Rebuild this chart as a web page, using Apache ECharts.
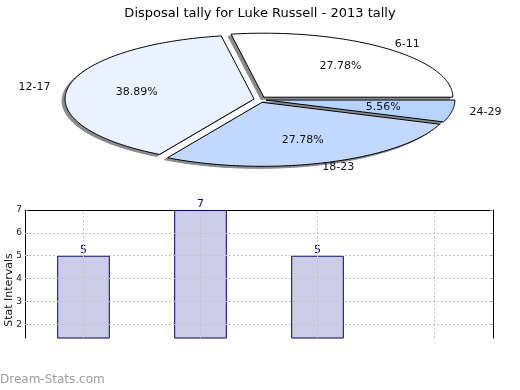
<!DOCTYPE html>
<html>
<head>
<meta charset="utf-8">
<script src="https://cdn.jsdelivr.net/npm/echarts@6/dist/echarts.min.js"></script>
<style>html,body{margin:0;padding:0;background:#fff}#c{width:520px;height:390px}</style>
</head>
<body>
<div id="c"></div>
<script>
// ---- data ----
const categories = ['6-11', '12-17', '18-23', '24-29'];
const counts = [5, 7, 5, 1];
const yTicks = [2, 3, 4, 5, 6, 7];
const titleText = 'Disposal tally for Luke Russell - 2013 tally';
const yName = 'Stat Intervals';
const watermark = 'Dream-Stats.com';

// ---- styles ----
const sliceColors = ['#ffffff', '#ebf2ff', '#c3d8ff', '#b4d4ff'];
const FONT = 'DejaVu Sans';

const total = counts.reduce((a, b) => a + b, 0);
const cum = [];
counts.reduce((acc, v, i) => { cum[i] = acc; return acc + v; }, 0);

const PIE = { cx: 260, cy: 99.5, rx: 189, ry: 64, explode: 6, inner: 0.63, lrx: 229, lry: 72 };

function renderSlice(params, api) {
  const i = params.dataIndex;
  const v = api.value(0);
  const a0 = cum[i] / total * 2 * Math.PI;
  const a1 = (cum[i] + v) / total * 2 * Math.PI;
  const mid = (a0 + a1) / 2;
  const ox = PIE.cx + PIE.explode * Math.cos(mid);
  const oy = PIE.cy - PIE.explode * Math.sin(mid) * 0.5;
  const pts = [[ox, oy]];
  const steps = Math.max(8, Math.ceil((a1 - a0) / (Math.PI / 180)));
  for (let s = 0; s <= steps; s++) {
    const t = a0 + (a1 - a0) * s / steps;
    pts.push([ox + PIE.rx * Math.cos(t), oy - PIE.ry * Math.sin(t)]);
  }
  const pct = (v / total * 100).toFixed(2) + '%';
  const txt = (text, x, y) => ({
    type: 'text', z2: 20,
    style: {
      text: text, x: x, y: y, fill: '#111', font: '11px "' + FONT + '"',
      align: 'center', verticalAlign: 'middle', textAlign: 'center', textVerticalAlign: 'middle'
    }
  });
  return {
    type: 'group',
    children: [
      {
        type: 'polygon', z2: 1, x: -3, y: 2,
        shape: { points: pts },
        style: { fill: '#8a8a8a', stroke: '#8a8a8a', lineWidth: 1 }
      },
      {
        type: 'polygon', z2: 10,
        shape: { points: pts },
        style: { fill: sliceColors[i], stroke: '#000', lineWidth: 1 }
      },
      txt(pct, ox + PIE.inner * PIE.rx * Math.cos(mid), oy - PIE.inner * PIE.ry * Math.sin(mid)),
      txt(categories[i], PIE.cx + PIE.lrx * Math.cos(mid), PIE.cy - PIE.lry * Math.sin(mid))
    ]
  };
}

const gridLine = { type: [2, 2], color: '#c4c4c4', width: 1 };
const yMin = 1.4, yMax = 7;

const option = {
  animation: false,
  backgroundColor: '#fff',
  textStyle: { fontFamily: FONT },
  title: {
    text: titleText, left: 'center', top: 2,
    textStyle: { fontSize: 13, fontWeight: 'normal', color: '#000', fontFamily: FONT }
  },
  graphic: [{
    type: 'text', left: 0, top: 374,
    style: { text: watermark, fill: '#9c9c9c', font: '12px "' + FONT + '"' }
  }],
  grid: { left: 25, right: 27, top: 210, bottom: 52, containLabel: false, outerBoundsMode: 'none' },
  xAxis: {
    type: 'category', data: categories, position: 'top',
    axisLine: { show: true, lineStyle: { color: '#000', width: 1 } },
    axisTick: { show: false }, axisLabel: { show: false }, splitLine: { show: false }
  },
  yAxis: [{
    type: 'value', min: yMin, max: yMax, position: 'left',
    name: yName, nameLocation: 'middle', nameGap: 10, nameRotate: 90, nameMoveOverlap: false,
    nameTextStyle: { fontSize: 11, color: '#111', fontFamily: FONT, padding: [0, 32, 0, 0] },
    axisLine: { show: true, lineStyle: { color: '#000', width: 1 } },
    axisTick: { show: true, inside: true, length: 3, customValues: yTicks, lineStyle: { color: '#666' } },
    axisLabel: { customValues: yTicks, fontSize: 9, color: '#222', margin: 3, fontFamily: FONT },
    splitLine: { show: false }
  }, {
    type: 'value', min: yMin, max: yMax, position: 'right',
    axisLine: { show: true, lineStyle: { color: '#000', width: 1 } },
    axisTick: { show: true, inside: true, length: 3, customValues: yTicks, lineStyle: { color: '#999' } },
    axisLabel: { show: false, customValues: yTicks },
    splitLine: { show: false }
  }],
  series: [
    {
      type: 'custom', coordinateSystem: 'none', renderItem: renderSlice,
      data: counts.map(v => [v]), silent: true
    },
    {
      type: 'bar', data: counts, barWidth: '45%', yAxisIndex: 0,
      itemStyle: { color: '#ccccE6', borderColor: '#000080', borderWidth: 1 },
      label: {
        show: true, position: 'top', distance: 0, color: '#000080', fontSize: 11, fontFamily: FONT,
        formatter: p => (p.value >= yMin ? String(p.value) : '')
      },
      markLine: {
        silent: true, symbol: ['none', 'none'], label: { show: false },
        lineStyle: gridLine, emphasis: { disabled: true },
        data: yTicks.filter(t => t < yMax).map(t => ({ yAxis: t }))
          .concat(categories.map(c => ({ xAxis: c })))
      }
    }
  ]
};

const chart = echarts.init(document.getElementById('c'));
chart.setOption(option);
</script>
</body>
</html>
